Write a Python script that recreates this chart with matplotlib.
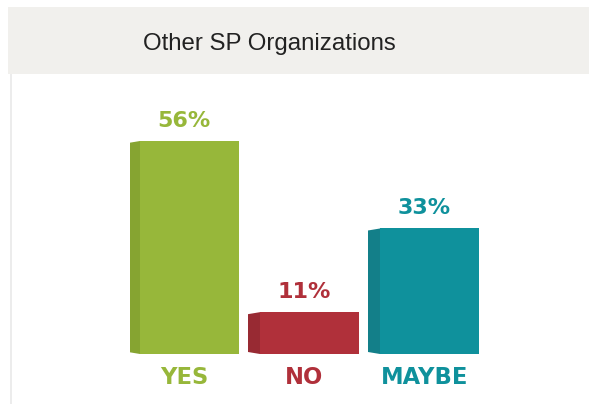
import matplotlib
matplotlib.use("Agg")
import matplotlib.pyplot as plt
from matplotlib.patches import Polygon, Rectangle

categories = ["YES", "NO", "MAYBE"]
values = [56, 11, 33]
value_labels = ["56%", "11%", "33%"]
front_colors = ["#97b73a", "#b0303a", "#0f919c"]
side_colors = ["#86a431", "#982a33", "#137f89"]
title = "Other SP Organizations"

W, H = 589, 404
fig = plt.figure(figsize=(W / 100, H / 100), dpi=100)
fig.patch.set_facecolor("white")


def fx(px):
    return px / W


def fy(py):
    return 1 - py / H


fig.patches.append(Rectangle((fx(8), fy(74)), fx(581), (74 - 7) / H,
                             transform=fig.transFigure, facecolor="#f1f0ed",
                             edgecolor="none", zorder=0))
fig.patches.append(Rectangle((fx(9.5), 0), fx(2.5), fy(74),
                             transform=fig.transFigure, facecolor="#ececec",
                             edgecolor="none", zorder=0))
fig.text(fx(269.5), fy(44), title, ha="center", va="center",
         fontsize=17.3, family="Liberation Sans", color="#222222")

ax_left, ax_right = 129.5, 489.5
ax_bottom, ax_top = 354, 74
ax = fig.add_axes([fx(ax_left), fy(ax_bottom), (ax_right - ax_left) / W,
                   (ax_bottom - ax_top) / H])
ax.set_xlim(-0.5, 2.5)
ymax = 56 * (ax_bottom - ax_top) / 213.0
ax.set_ylim(0, ymax)
ax.axis("off")
ax.patch.set_alpha(0)

front_w = 0.825
depth = 0.1
px_y = ymax / (ax_bottom - ax_top)

for i, (v, fc, sc) in enumerate(zip(values, front_colors, side_colors)):
    fl = i - front_w / 2
    ax.bar(i, v, width=front_w, color=fc, edgecolor="none", zorder=3)
    side = Polygon([(fl - depth, 2 * px_y), (fl, 0), (fl, v), (fl - depth, v - 2 * px_y)],
                   closed=True, facecolor=sc, edgecolor="none", zorder=2)
    ax.add_patch(side)
    cx = i - 0.045
    ax.text(cx, v + 14 * px_y, value_labels[i], ha="center", va="baseline",
            fontsize=16, fontweight="bold", family="DejaVu Sans", color=fc)
    ax.text(cx, -30 * px_y, categories[i], ha="center", va="baseline",
            fontsize=16.3, fontweight="bold", family="DejaVu Sans", color=fc,
            clip_on=False)

fig.savefig("out.png", dpi=100, facecolor="white")
